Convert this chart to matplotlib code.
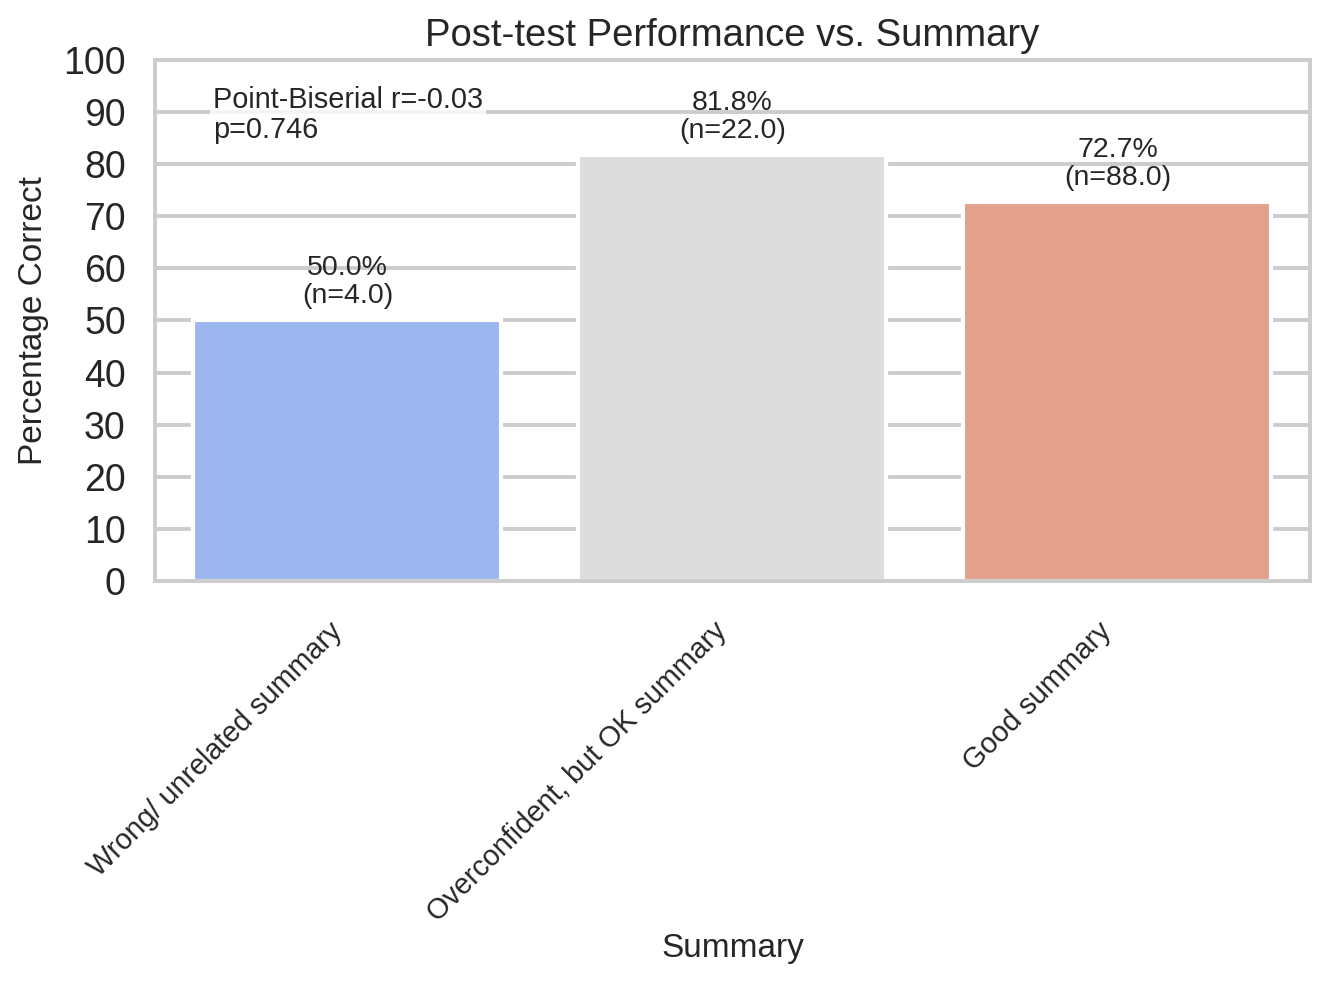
import matplotlib
matplotlib.use("Agg")
import matplotlib.pyplot as plt
import seaborn as sns

categories = ["Wrong/ unrelated summary", "Overconfident, but OK summary", "Good summary"]
pct_correct = [50.0, 81.8, 72.7]
counts = [4.0, 22.0, 88.0]
bar_colors = ["#9bb6ef", "#dcdcdc", "#e3a08a"]
r_value = -0.03
p_value = 0.746

sns.set_style("whitegrid", {"grid.color": "#cccccc", "axes.edgecolor": "#cccccc"})
plt.rcParams['font.family'] = ['Liberation Sans', 'DejaVu Sans']
plt.rcParams['text.color'] = '#262626'
plt.rcParams['axes.labelcolor'] = '#262626'
plt.rcParams['xtick.color'] = '#262626'
plt.rcParams['ytick.color'] = '#262626'

fig = plt.figure(figsize=(13.28, 9.82), dpi=100)
ax = fig.add_axes([0.1167, 0.4084, 0.8697, 0.5305])

x = list(range(len(categories)))
ax.bar(x, pct_correct, width=0.8, color=bar_colors, edgecolor="white", linewidth=3, zorder=2)

# percentage + count above each bar
for xi, pct, n in zip(x, pct_correct, counts):
    ax.annotate(f"{pct:.1f}%\n(n={n:.1f})", (xi, pct), xytext=(0, 8), textcoords="offset points",
                ha="center", va="bottom", fontsize=20.5, linespacing=1.1)

ax.text(0.05, 0.951, f"Point-Biserial r={r_value:.2f}\np={p_value:.3f}", transform=ax.transAxes,
        ha="left", va="top", fontsize=20.8, linespacing=1.1,
        bbox=dict(facecolor="white", edgecolor="none", alpha=0.8, pad=2))

ax.set_xlim(-0.5, 2.5)
ax.set_ylim(0, 100)
ax.set_yticks(range(0, 101, 10))
ax.set_xticks(x)
ax.set_xticklabels(categories, rotation=45, ha="right", fontsize=20.7)
ax.tick_params(axis="y", labelsize=27, pad=21, length=0)
ax.tick_params(axis="x", pad=26, length=0)
ax.grid(axis="x", visible=False)
ax.grid(axis="y", linewidth=2.8, color="#cccccc", zorder=0)
ax.set_axisbelow(True)
for s in ax.spines.values():
    s.set_linewidth(2.8)
    s.set_color("#cccccc")

ax.set_title("Post-test Performance vs. Summary", fontsize=27.5, pad=10)
ax.set_xlabel("Summary", fontsize=24, labelpad=4)
ax.set_ylabel("Percentage Correct", fontsize=24, labelpad=10)

fig.savefig("out.png", dpi=100)
